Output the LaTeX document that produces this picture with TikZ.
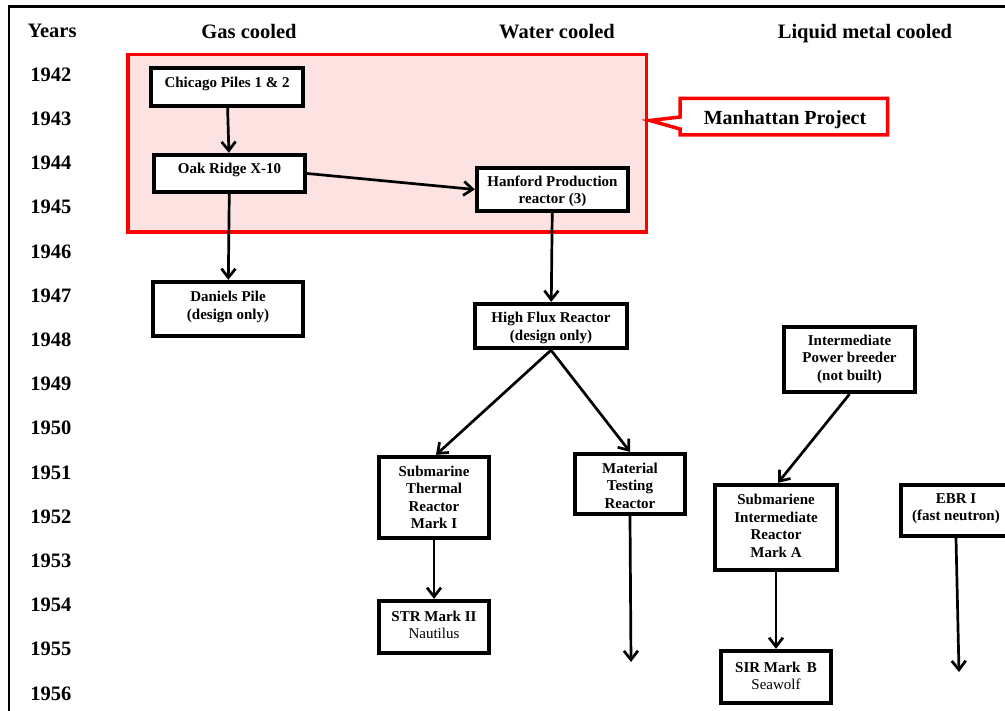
\documentclass[tikz,border=0pt]{standalone}
\usepackage{fontspec}
\setmainfont{Liberation Serif}
\usetikzlibrary{arrows.meta}
\definecolor{mpfill}{RGB}{253,226,226}
\definecolor{mpred}{RGB}{255,0,0}

\begin{document}
\begin{tikzpicture}[x=1pt,y=-1pt,
  reactor/.style={draw=black, line width=4.3pt, fill=white, inner sep=0pt},
  caption/.style={align=center, font=\fontsize{15}{17.5}\selectfont\bfseries, inner sep=0pt},
  heading/.style={font=\fontsize{20.5}{24}\selectfont\bfseries, inner sep=0pt, text depth=0pt},
  flow/.style={line width=2.7pt, -{Straight Barb[length=9pt,width=14pt,line width=2.7pt]}},
]
\useasboundingbox (0,0) rectangle (1005,711);

% outer frame (left and top rules)
\draw[line width=2.5pt] (9,716) -- (9,6.5) -- (1012,6.5);

% column headings
\node[heading] (hyears) at (52,31) {Years};
\node[heading] (hgas)   at (249,31) {Gas cooled};
\node[heading] (hwater) at (557,31) {Water cooled};
\node[heading] (hmetal) at (865,31) {Liquid metal cooled};

% year scale
\foreach \yr [count=\i from 0] in {1942,...,1956}
  \node[heading] (y\yr) at (51,74.5+44.2*\i) {\yr};

% Manhattan Project group and its callout
\node[draw=mpred, fill=mpfill, line width=3.5pt, inner sep=0pt,
      minimum width=518.5, minimum height=177.5] (mp) at (387,143.5) {};
\draw[mpred, line width=3.5pt, fill=white, line join=miter]
  (680,98.5) -- (887.5,98.5) -- (887.5,135) -- (680,135) -- (680,129)
  -- (650,120.5) -- (680,117) -- cycle;
\node[font=\fontsize{20}{24}\selectfont\bfseries, inner sep=0pt, text depth=0pt] (mptxt) at (785,117.5) {Manhattan Project};

% reactors
\node[reactor, minimum width=152, minimum height=38,
  label={[caption,yshift=3pt]center:{Chicago Piles 1 \& 2}}] (chi) at (227,87) {};
\node[reactor, minimum width=151, minimum height=37,
  label={[caption,yshift=3.5pt]center:{Oak Ridge X-10}}] (oak) at (229.5,173.5) {};
\node[reactor, minimum width=151, minimum height=43,
  label={[caption,yshift=-2pt]center:{Hanford Production\\reactor (3)}}] (han) at (552.5,189.5) {};
\node[reactor, minimum width=150, minimum height=54,
  label={[caption,yshift=2pt]center:{Daniels Pile\\(design only)}}] (dan) at (228,309) {};
\node[reactor, minimum width=152, minimum height=44,
  label={[caption,yshift=-2pt]center:{High Flux Reactor\\(design only)}}] (hfr) at (551,326) {};
\node[reactor, minimum width=131, minimum height=65,
  label={[caption,yshift=0.5pt]center:{Intermediate\\Power breeder\\(not built)}}] (ipb) at (849.5,359.5) {};
\node[reactor, minimum width=110, minimum height=81,
  label={[caption,yshift=0pt]center:{Submarine\\Thermal\\Reactor\\Mark I}}] (str) at (434,497.5) {};
\node[reactor, minimum width=110, minimum height=60,
  label={[caption,yshift=-1.5pt]center:{Material\\Testing\\Reactor}}] (mtr) at (630,484) {};
\node[reactor, minimum width=122, minimum height=85,
  label={[caption,yshift=1.5pt]center:{Submariene\\Intermediate\\Reactor\\Mark A}}] (sira) at (776,527.5) {};
\node[reactor, minimum width=110, minimum height=51,
  label={[caption,yshift=2pt]center:{EBR I\\(fast neutron)}}] (ebr) at (956,510.5) {};
\node[reactor, minimum width=110, minimum height=52,
  label={[caption,yshift=2pt]center:{STR Mark II\\{\mdseries Nautilus}}}] (str2) at (434,627) {};
\node[reactor, minimum width=110, minimum height=52,
  label={[caption,yshift=1pt]center:{SIR Mark\, B\\{\mdseries Seawolf}}}] (sirb) at (776,677) {};

% open-ended lines
\coordinate (mtrend) at (631,662);
\coordinate (ebrend) at (959,672);

% lineage
\draw[flow] (chi) -- (oak);
\draw[flow] (oak.east) -- (han.west);
\draw[flow] (oak) -- (dan);
\draw[flow] (han) -- (hfr);
\draw[flow] (hfr.south) -- ([xshift=2pt]str.north);
\draw[flow] (hfr.south) -- (mtr.north);
\draw[flow] (ipb.south) -- ([xshift=2pt]sira.north);
\draw[flow] (str) -- (str2);
\draw[flow] (mtr.south) -- (mtrend);
\draw[flow] (sira) -- (sirb);
\draw[flow] (ebr.south) -- (ebrend);
\end{tikzpicture}
\end{document}
